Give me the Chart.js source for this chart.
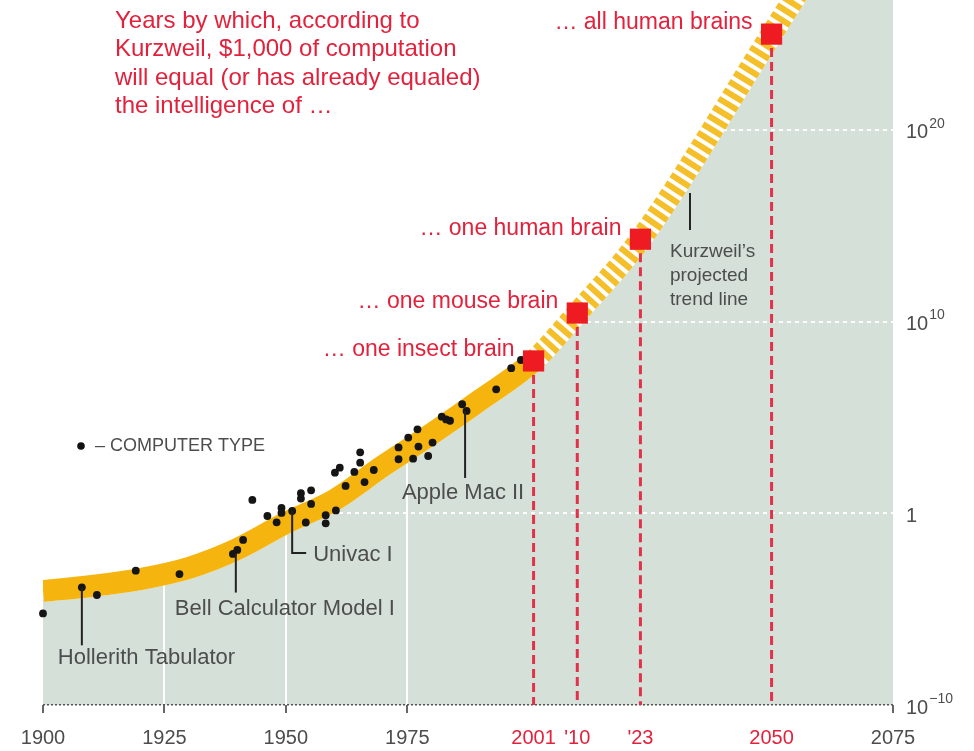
<!DOCTYPE html>
<html><head><meta charset="utf-8">
<script src="https://cdn.jsdelivr.net/npm/chart.js@4.4.1/dist/chart.umd.min.js"></script>
<style>html,body{margin:0;padding:0;background:#fff}#wrap{width:974px;height:751px;position:relative}canvas{display:block}</style>
</head><body><div id="wrap"><canvas id="c" width="974" height="751"></canvas></div>
<script>
// ---- data (y values are log10 of computations per second per $1,000) ----
const trendYears = [1900, 1910, 1920, 1930, 1940, 1950, 1960, 1970, 1980, 1990, 2001, 2010, 2023, 2050, 2060, 2075];
const trendExp   = [-4.05, -3.79, -3.43, -2.85, -1.86, -0.5, 0.70, 2.47, 4.14, 5.91, 7.95, 10.45, 14.3, 25.0, 29.0, 35.0];
const dotYears = [1900, 1908, 1911.1, 1919.1, 1928.1, 1939.1, 1940, 1941.2, 1943.1, 1946.2, 1948.1, 1949.1, 1949.1, 1951.3, 1953.1, 1953.1, 1955.2, 1955.2, 1954.1, 1958.2, 1958.2, 1960.3, 1960.1, 1961.1, 1962.3, 1964.1, 1965.3, 1965.3, 1966.2, 1968.1, 1973.2, 1975.2, 1977.1, 1973.2, 1976.2, 1977.3, 1979.3, 1980.2, 1982.1, 1983.0, 1983.8, 1986.3, 1987.2, 1993.3, 1996.4, 1998.4];
const dotExp   = [-5.22, -3.86, -4.26, -2.99, -3.17, -2.12, -1.91, -1.39, 0.70, -0.14, -0.47, 0.28, 0.02, 0.12, 1.05, 0.77, 1.20, 0.49, -0.48, -0.10, -0.52, 0.15, 2.12, 2.38, 1.43, 2.16, 3.18, 2.64, 1.63, 2.26, 3.44, 3.95, 4.38, 2.82, 2.85, 3.48, 2.99, 3.69, 5.04, 4.90, 4.83, 5.69, 5.34, 6.47, 7.57, 8.0];
const milestoneYears  = [2001, 2010, 2023, 2050];
const milestoneExp    = [7.95, 10.45, 14.3, 25.0];
const milestoneLabels = ['… one insect brain', '… one mouse brain', '… one human brain', '… all human brains'];
const xTickYears  = [1900, 1925, 1950, 1975, 2001, 2010, 2023, 2050, 2075];
const xTickLabels = ['1900', '1925', '1950', '1975', '2001', "'10", "'23", '2050', '2075'];
const yTickExps   = [-10, 0, 10, 20];
const titleLines  = ['Years by which, according to', 'Kurzweil, $1,000 of computation', 'will equal (or has already equaled)', 'the intelligence of …'];
const noteLines   = ['Kurzweil’s', 'projected', 'trend line'];
const calloutNames = ['Hollerith Tabulator', 'Bell Calculator Model I', 'Univac I', 'Apple Mac II'];
const calloutYears = [1908, 1939.7, 1951.3, 1986.9];
const calloutExp   = [-3.86, -2.1, 0.12, 5.34];
const legendText = '– COMPUTER TYPE';

// ---- styles ----
const FONT = '"Liberation Sans", Arial, sans-serif';
const RED_TEXT = '#E2223C';
const GRAY_TEXT = '#4d4d4d';
const GREEN = '#D5E0D9';
const BAND = '#F6B40E';
const STRIPE = '#F5BF2A';
const SQUARE = '#EE1B22';
const RED_LINE = '#E2314A';
const milestoneSet = new Set(milestoneYears);
const whiteYears = new Set([1925, 1950, 1975]);

const pow = e => Math.pow(10, e);
const trendData = trendYears.map((y, i) => ({x: y, y: pow(trendExp[i])}));
const dotData = dotYears.map((y, i) => ({x: y, y: pow(dotExp[i])}));
const squareData = milestoneYears.map((y, i) => ({x: y, y: pow(milestoneExp[i])}));
const dropData = [];
milestoneYears.forEach((y, i) => {
  dropData.push({x: y, y: pow(milestoneExp[i])});
  dropData.push({x: y, y: pow(yTickExps[0])});
  dropData.push({x: y, y: NaN});
});

const annot = {
  id: 'annot',
  afterDraw(chart) {
    const {ctx, scales: {x, y}} = chart;
    ctx.save();
    ctx.fillStyle = GRAY_TEXT;
    ctx.textBaseline = 'middle';
    ctx.textAlign = 'left';
    yTickExps.forEach(e => {
      const py = y.getPixelForValue(pow(e)) + 3;
      const px = x.right + 13;
      ctx.font = '20px ' + FONT;
      if (e === 0) {
        ctx.fillText('1', px, py);
      } else {
        ctx.fillText('10', px, py);
        const w = ctx.measureText('10').width;
        ctx.font = '14px ' + FONT;
        ctx.fillText(e < 0 ? '−' + Math.abs(e) : String(e), px + w + 1, py - 9);
      }
    });
    ctx.fillStyle = RED_TEXT;
    ctx.font = '24px ' + FONT;
    titleLines.forEach((t, i) => ctx.fillText(t, 115, 21 + i * 28.5));
    ctx.font = '23px ' + FONT;
    ctx.textAlign = 'right';
    milestoneYears.forEach((yr, i) => {
      const px = x.getPixelForValue(yr), py = y.getPixelForValue(pow(milestoneExp[i]));
      ctx.fillText(milestoneLabels[i], px - 19, py - 11);
    });
    ctx.strokeStyle = '#222';
    ctx.lineWidth = 2;
    ctx.fillStyle = GRAY_TEXT;
    ctx.font = '22px ' + FONT;
    const cp = calloutYears.map((yr, i) => [x.getPixelForValue(yr), y.getPixelForValue(pow(calloutExp[i]))]);
    const line = pts => { ctx.beginPath(); ctx.moveTo(pts[0][0], pts[0][1]); pts.slice(1).forEach(p => ctx.lineTo(p[0], p[1])); ctx.stroke(); };
    let [ax, ay] = cp[0];
    line([[ax, ay], [ax, ay + 58]]);
    ctx.textAlign = 'left'; ctx.fillText(calloutNames[0], ax - 24, ay + 71);
    [ax, ay] = cp[1];
    line([[ax, ay], [ax, ay + 39]]);
    ctx.fillText(calloutNames[1], ax - 61, ay + 55);
    [ax, ay] = cp[2];
    line([[ax, ay], [ax, ay + 42], [ax + 14, ay + 42]]);
    ctx.fillText(calloutNames[2], ax + 21, ay + 44);
    [ax, ay] = cp[3];
    line([[ax, ay], [ax, ay + 67]]);
    ctx.textAlign = 'center'; ctx.fillText(calloutNames[3], ax - 2, ay + 82);
    const nx = x.getPixelForValue(2033.2), ny = y.getPixelForValue(pow(16.71));
    line([[nx, ny], [nx, ny + 37]]);
    ctx.textAlign = 'left';
    ctx.font = '19px ' + FONT;
    noteLines.forEach((t, i) => ctx.fillText(t, nx - 20, ny + 59 + i * 24));
    ctx.fillStyle = '#111';
    ctx.beginPath(); ctx.arc(81, 446, 3.8, 0, Math.PI * 2); ctx.fill();
    ctx.fillStyle = GRAY_TEXT;
    ctx.font = '18px ' + FONT;
    ctx.fillText(legendText, 95, 446);
    ctx.restore();
  }
};

new Chart(document.getElementById('c'), {
  type: 'line',
  data: {
    datasets: [
      { label: 'area', data: trendData, order: 10, borderColor: '#ffffff', borderWidth: 22,
        backgroundColor: GREEN, fill: 'start', pointRadius: 0, cubicInterpolationMode: 'monotone', clip: 0 },
      { label: 'trend', data: trendData, order: 9, borderWidth: 22, borderColor: BAND, fill: false,
        pointRadius: 0, cubicInterpolationMode: 'monotone', clip: 0,
        segment: {
          borderColor: c => c.p0.parsed.x >= 2001 ? STRIPE : BAND,
          borderDash: c => c.p0.parsed.x >= 2001 ? [6, 4] : undefined
        } },
      { label: 'drops', data: dropData, order: 5, borderColor: RED_LINE, borderWidth: 3, borderDash: [9, 5],
        pointRadius: 0, fill: false, spanGaps: false },
      { label: 'computers', data: dotData, order: 3, showLine: false, pointRadius: 3.9,
        pointBackgroundColor: '#151515', pointBorderWidth: 0, clip: false },
      { label: 'milestones', data: squareData, order: 1, showLine: false, pointStyle: 'rect', pointRadius: 15,
        pointBackgroundColor: SQUARE, pointBorderWidth: 0, clip: false }
    ]
  },
  options: {
    responsive: false, animation: false, devicePixelRatio: 1,
    layout: { autoPadding: false, padding: { left: 43, top: 0, right: 0, bottom: 0 } },
    plugins: { legend: { display: false }, tooltip: { enabled: false }, filler: { drawTime: 'beforeDraw' } },
    scales: {
      x: {
        type: 'linear', min: 1900, max: 2075,
        afterBuildTicks: s => { s.ticks = xTickYears.map(v => ({value: v})); },
        afterFit: s => { s.height = 46; },
        ticks: {
          autoSkip: false, maxRotation: 0, padding: 13,
          font: { family: FONT, size: 20 },
          color: c => milestoneSet.has(c.tick.value) ? RED_TEXT : GRAY_TEXT,
          callback: (v, i) => xTickLabels[i]
        },
        grid: {
          color: c => whiteYears.has(c.tick && c.tick.value) ? '#ffffff' : 'rgba(0,0,0,0)',
          lineWidth: 2,
          tickColor: c => milestoneSet.has(c.tick && c.tick.value) ? 'rgba(0,0,0,0)' : '#333',
          tickWidth: 1.5, tickLength: 8
        },
        border: { display: false }
      },
      y: {
        type: 'logarithmic', position: 'right', min: 1e-10, max: Math.pow(10, 26.78),
        afterBuildTicks: s => { s.ticks = yTickExps.map(e => ({value: pow(e)})); },
        afterFit: s => { s.width = 81; },
        ticks: { display: false },
        grid: {
          drawTicks: false,
          color: c => (c.tick && c.tick.value === pow(yTickExps[0])) ? '#555' : '#ffffff',
          lineWidth: c => (c.tick && c.tick.value === pow(yTickExps[0])) ? 1.5 : 2
        },
        border: { display: false, dash: c => (c.tick && c.tick.value === pow(yTickExps[0])) ? [2, 2] : [4, 4] }
      }
    }
  },
  plugins: [annot]
});
</script></body></html>
